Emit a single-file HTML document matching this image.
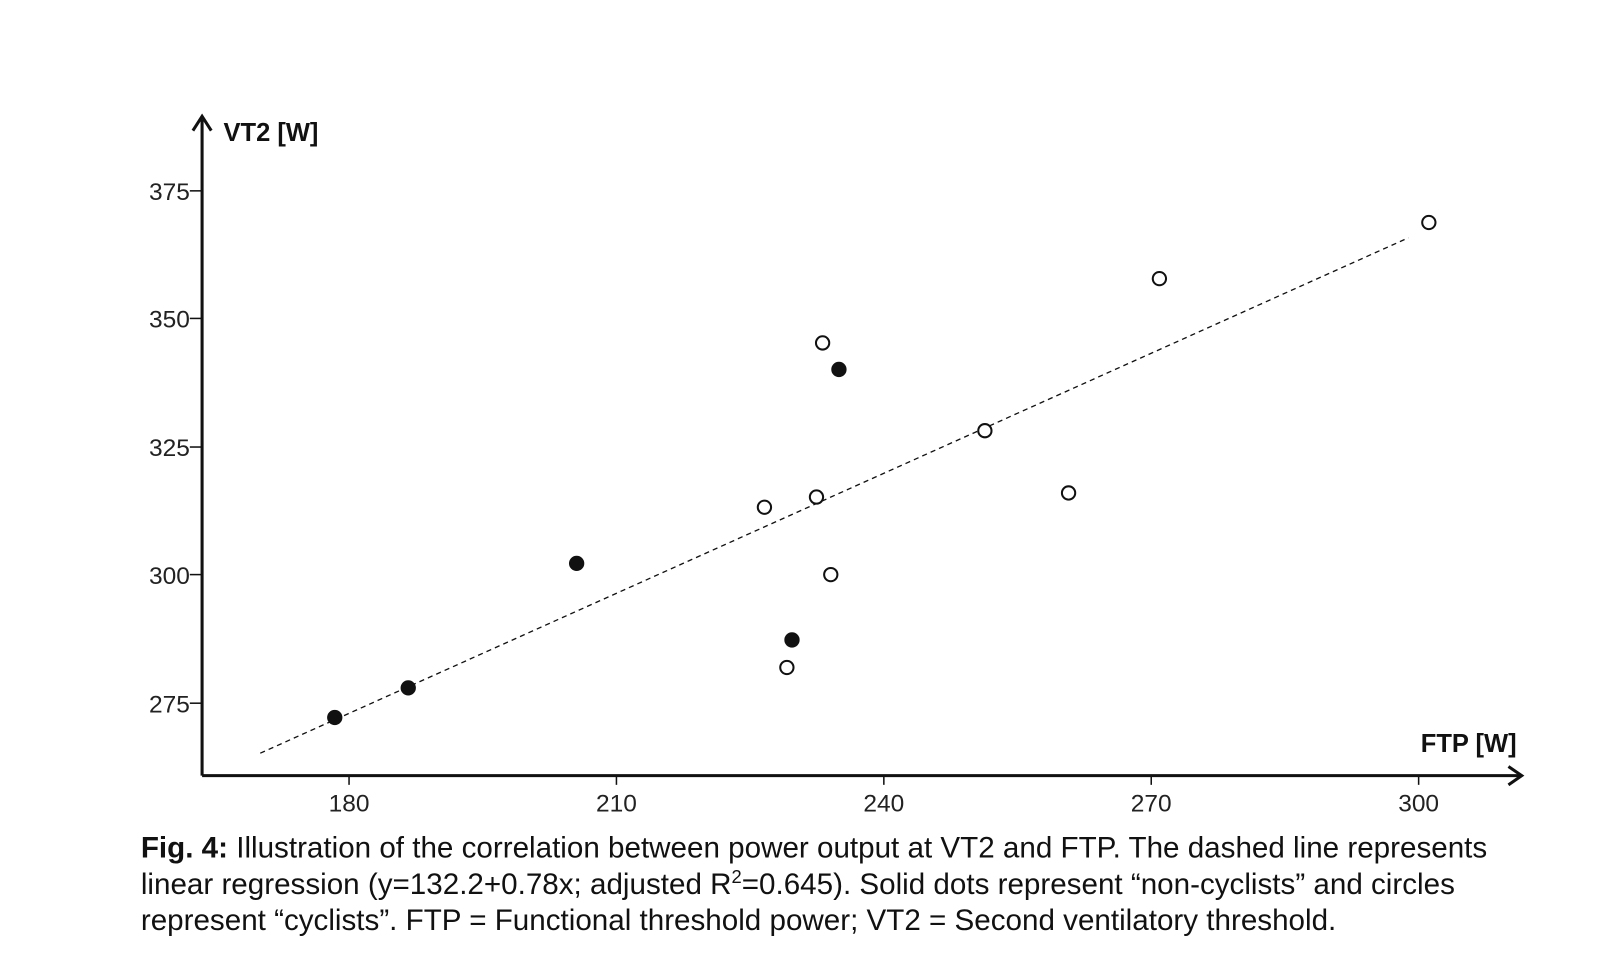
<!DOCTYPE html>
<html><head><meta charset="utf-8"><style>
body{margin:0;background:#fff;width:1600px;height:971px;overflow:hidden;font-family:"Liberation Sans",Arial,sans-serif}
#w{position:absolute;left:0;top:0;width:1562px;height:948px;transform:scale(1.0206);transform-origin:0 0}
.cap{position:absolute;left:138px;top:814px;font-size:29px;line-height:35.5px;color:#111;white-space:nowrap}
</style></head><body><div id="w">
<svg width="1562" height="948" style="position:absolute;left:0;top:0" font-family="Liberation Sans, Arial, sans-serif">
<g stroke="#111" stroke-width="3" fill="none">
<line x1="198" y1="117" x2="198" y2="760"/>
<line x1="198" y1="760" x2="1490" y2="760"/>
<polyline points="189,128 198,114 207,128"/>
<polyline points="1478,751 1491,760 1478,769"/>
</g>
<g stroke="#111" stroke-width="1.5">
<line x1="186" y1="187" x2="198" y2="187"/>
<line x1="186" y1="312" x2="198" y2="312"/>
<line x1="186" y1="438" x2="198" y2="438"/>
<line x1="186" y1="563" x2="198" y2="563"/>
<line x1="186" y1="689" x2="198" y2="689"/>
<line x1="342" y1="760" x2="342" y2="769"/>
<line x1="604" y1="760" x2="604" y2="769"/>
<line x1="866" y1="760" x2="866" y2="769"/>
<line x1="1128" y1="760" x2="1128" y2="769"/>
<line x1="1390" y1="760" x2="1390" y2="769"/>
</g>
<g font-size="24" fill="#222" text-anchor="end">
<text x="186" y="196">375</text><text x="186" y="321">350</text><text x="186" y="447">325</text><text x="186" y="572">300</text><text x="186" y="698">275</text>
</g>
<g font-size="24" fill="#222" text-anchor="middle">
<text x="342" y="795">180</text><text x="604" y="795">210</text><text x="866" y="795">240</text><text x="1128" y="795">270</text><text x="1390" y="795">300</text>
</g>
<text x="219" y="138" font-size="25" font-weight="bold" fill="#111">VT2 [W]</text>
<text x="1486" y="737" font-size="25" font-weight="bold" fill="#111" text-anchor="end">FTP [W]</text>
<line x1="255" y1="738" x2="1380" y2="233" stroke="#111" stroke-width="1.3" stroke-dasharray="5,4"/>
<g fill="#fff" stroke="#111" stroke-width="2">
<circle cx="1400" cy="218" r="6.5"/><circle cx="1136" cy="273" r="6.5"/><circle cx="806" cy="336" r="6.5"/><circle cx="965" cy="422" r="6.5"/><circle cx="1047" cy="483" r="6.5"/><circle cx="749" cy="497" r="6.5"/><circle cx="800" cy="487" r="6.5"/><circle cx="814" cy="563" r="6.5"/><circle cx="771" cy="654" r="6.5"/>
</g>
<g fill="#111">
<circle cx="822" cy="362" r="7.5"/><circle cx="565" cy="552" r="7.5"/><circle cx="776" cy="627" r="7.5"/><circle cx="400" cy="674" r="7.5"/><circle cx="328" cy="703" r="7.5"/>
</g>
</svg>
<div class="cap"><b>Fig. 4:</b> Illustration of the correlation between power output at VT2 and FTP. The dashed line represents<br>linear regression (y=132.2+0.78x; adjusted R<sup style="font-size:18px;line-height:0">2</sup>=0.645). Solid dots represent “non-cyclists” and circles<br>represent “cyclists”. FTP = Functional threshold power; VT2 = Second ventilatory threshold.</div>
</div></body></html>
